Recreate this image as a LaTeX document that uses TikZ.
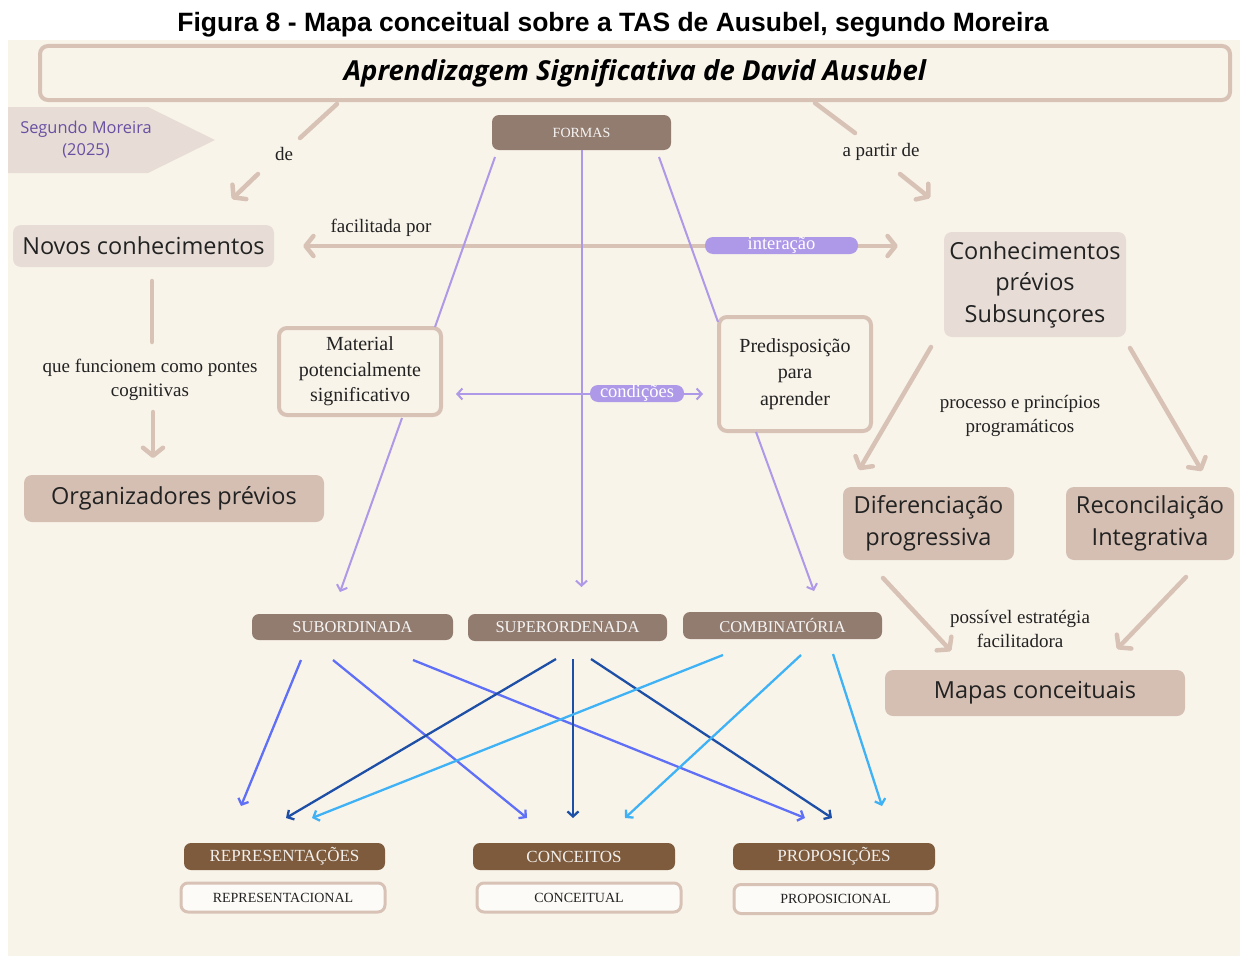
\documentclass[tikz,border=0pt]{standalone}
\usepackage{fontspec}
\setmainfont{Liberation Serif}
\newfontfamily\sansf{Open Sans}
\newfontfamily\arialf{Liberation Sans}
\usetikzlibrary{arrows.meta,calc}
\definecolor{bgc}{HTML}{F9F4EA}
\definecolor{tanc}{HTML}{D8C2B6}
\definecolor{lightbox}{HTML}{E7DDD6}
\definecolor{midbox}{HTML}{D5BFB3}
\definecolor{greybrown}{HTML}{927C70}
\definecolor{brownc}{HTML}{7D5B3C}
\definecolor{purp}{HTML}{AE98E8}
\definecolor{purptext}{HTML}{6A4FA3}
\definecolor{blueA}{HTML}{5F6FF6}
\definecolor{blueB}{HTML}{1E4FA6}
\definecolor{blueC}{HTML}{3FB2F6}
\definecolor{txt}{HTML}{222222}
\tikzset{
  x=1pt, y=-1pt,
  box/.style={rectangle, rounded corners=8pt, align=center, inner sep=0pt, text=txt},
  lightnode/.style={box, fill=lightbox, font=\sansf\fontsize{23.5}{31.5}\selectfont},
  midnode/.style={box, fill=midbox, font=\sansf\fontsize{23.5}{31.5}\selectfont},
  outlined/.style={box, draw=tanc, line width=4pt, fill=bgc, font=\fontsize{20}{26}\selectfont},
  capsnode/.style={box, rounded corners=7pt, fill=greybrown, text=white!92!greybrown, font=\fontsize{16.5}{16}\selectfont},
  brownnode/.style={box, rounded corners=7pt, fill=brownc, text=white!90!brownc, font=\fontsize{17}{17}\selectfont},
  whitenode/.style={box, rounded corners=7pt, draw=tanc, line width=3pt, fill=white!60!bgc, font=\fontsize{14}{14}\selectfont},
  lbl/.style={align=center, text=txt, font=\fontsize{19}{24}\selectfont},
  pill/.style={rectangle, rounded corners=8pt, fill=purp, text=white, inner sep=0pt, font=\fontsize{18.5}{15}\selectfont},
  tanline/.style={draw=tanc, line width=4.5pt, line cap=round},
  tanarrow/.style={tanline, -{Straight Barb[length=8pt 0, width=20pt 0, round]}},
  purpline/.style={draw=purp, line width=2pt},
  purparrow/.style={purpline, -{Straight Barb[length=5pt 0, width=11pt 0]}},
  bluearrow/.style={line width=2.3pt, -{Straight Barb[length=5pt 0, width=11pt 0]}},
}
\begin{document}
\begin{tikzpicture}
\useasboundingbox (0,0) rectangle (1240,958);
\fill[white] (0,0) rectangle (1240,958);
\fill[bgc] (8,40) rectangle (1240,956);

% caption
\node[font=\arialf\bfseries\fontsize{26.5}{28}\selectfont, text=black] (caption) at (613,25) {Figura 8 - Mapa conceitual sobre a TAS de Ausubel, segundo Moreira};

% title box
\node[box, draw=tanc, line width=4pt, minimum width=1190pt, minimum height=54pt, font=\sansf\bfseries\itshape\fontsize{27.5}{30}\selectfont, text=black] (top) at (635,73) {Aprendizagem Significativa de David Ausubel};

% Segundo Moreira tag
\fill[lightbox] (8,107) -- (148,107) -- (215,140) -- (148,173) -- (8,173) -- cycle;
\node[align=center, text=purptext, font=\sansf\fontsize{16.4}{22}\selectfont] (moreira) at (86,140) {Segundo Moreira\\(2025)};

% nodes
\node[capsnode, minimum width=179pt, minimum height=35pt, font=\fontsize{14}{14}\selectfont] (formas) at (581.5,132.5) {FORMAS};
\node[lightnode, minimum width=261pt, minimum height=42pt] (novos) at (143.5,246) {Novos conhecimentos};
\node[lightnode, minimum width=182pt, minimum height=105pt] (conh) at (1035,284.5) {Conhecimentos\\prévios\\Subsunçores};
\node[midnode, minimum width=300pt, minimum height=47pt] (org) at (174,498.5) {Organizadores prévios};
\node[outlined, minimum width=162pt, minimum height=87pt, font=\fontsize{20}{25.5}\selectfont] (mat) at (360,371.5) {Material\\potencialmente\\significativo};
\node[outlined, minimum width=152pt, minimum height=114pt, font=\fontsize{20}{26.5}\selectfont] (pred) at (795,374) {Predisposição\\para\\aprender};
\node[midnode, minimum width=171pt, minimum height=73pt] (dif) at (928.5,523.5) {Diferenciação\\progressiva};
\node[midnode, minimum width=168pt, minimum height=73pt] (rec) at (1150,523.5) {Reconcilaição\\Integrativa};
\node[midnode, minimum width=300pt, minimum height=46pt] (mapas) at (1035,693) {Mapas conceituais};

\node[capsnode, minimum width=201pt, minimum height=26pt] (sub) at (352.5,627) {SUBORDINADA};
\node[capsnode, minimum width=199pt, minimum height=27pt] (sup) at (567.5,627.5) {SUPERORDENADA};
\node[capsnode, minimum width=199pt, minimum height=27pt] (comb) at (782.5,625.5) {COMBINATÓRIA};

\node[brownnode, minimum width=201pt, minimum height=27pt] (rep) at (284.5,856.5) {REPRESENTAÇÕES};
\node[brownnode, minimum width=202pt, minimum height=27pt] (conc) at (574,856.5) {CONCEITOS};
\node[brownnode, minimum width=202pt, minimum height=27pt] (prop) at (834,856.5) {PROPOSIÇÕES};
\node[whitenode, minimum width=204pt, minimum height=29pt] (repl) at (283,897.5) {REPRESENTACIONAL};
\node[whitenode, minimum width=204pt, minimum height=29pt] (concl) at (579,897.5) {CONCEITUAL};
\node[whitenode, minimum width=203pt, minimum height=29pt] (propl) at (835.5,899) {PROPOSICIONAL};

% labels
\node[lbl] (lde) at (284,154) {de};
\node[lbl] (lpartir) at (881,152) {a partir de};
\node[lbl] (lfacil) at (381,228) {facilitada por};
\node[lbl] (lpontes) at (150,380) {que funcionem como pontes\\cognitivas};
\node[lbl] (lproc) at (1020,416) {processo e princípios\\programáticos};
\node[lbl] (lposs) at (1020,629) {possível estratégia\\facilitadora};

% tan connectors
\coordinate (deA) at (337,104);  \coordinate (deB) at (300,138);
\coordinate (deC) at (258,174);  \coordinate (deD) at (232,199);
\draw[tanline] (deA) -- (deB);
\draw[tanarrow] (deC) -- (deD);
\coordinate (paA) at (815,103);  \coordinate (paB) at (855,133);
\coordinate (paC) at (900,174);  \coordinate (paD) at (930,198);
\draw[tanline] (paA) -- (paB);
\draw[tanarrow] (paC) -- (paD);

\draw[tanline, {Straight Barb[length=8pt 0, width=20pt 0, round]}-{Straight Barb[length=8pt 0, width=20pt 0, round]}, shorten <=29pt, shorten >=46pt] (novos.east) -- (novos.east -| conh.west);
\node[pill, minimum width=153pt, minimum height=17pt] (inter) at (781.5,245.5) {interação};

\coordinate (npA) at (152,281); \coordinate (npB) at (152,342);
\coordinate (npC) at (153,412); \coordinate (npD) at (153,458);
\draw[tanline] (npA) -- (npB);
\draw[tanarrow] (npC) -- (npD);

\coordinate (cdA) at (931,347); \coordinate (cdB) at (859,470);
\coordinate (crA) at (1130,348); \coordinate (crB) at (1202,471);
\draw[tanarrow] (cdA) -- (cdB);
\draw[tanarrow] (crA) -- (crB);
\coordinate (dmA) at (883,578); \coordinate (dmB) at (951,651);
\coordinate (rmA) at (1186,577); \coordinate (rmB) at (1117,649);
\draw[tanarrow] (dmA) -- (dmB);
\draw[tanarrow] (rmA) -- (rmB);

% purple connectors
\draw[purpline] (495,157) coordinate (fmA) -- (435,327) coordinate (fmB);
\draw[purparrow] (402,418) coordinate (msA) -- (340,592) coordinate (msB);
\draw[purparrow] (formas.south) -- (581.5,587) coordinate (fsB);
\draw[purpline] (659,157) coordinate (fpA) -- (718,322) coordinate (fpB);
\draw[purparrow] (756,432) coordinate (pcA) -- (814,591) coordinate (pcB);
\draw[purpline, {Straight Barb[length=5pt 0, width=11pt 0]}-{Straight Barb[length=5pt 0, width=11pt 0]}] (456,394) coordinate (cdL) -- (703,394) coordinate (cdR);
\node[pill, minimum width=94pt, minimum height=17pt] (cond) at (637,393.5) {condições};

% blue connectors
\draw[bluearrow, blueA] (301,660) coordinate (s1) -- (241,806) coordinate (e1);
\draw[bluearrow, blueA] (333,660) coordinate (s2) -- (527,818) coordinate (e2);
\draw[bluearrow, blueA] (413,660) coordinate (s3) -- (805,818) coordinate (e3);
\draw[bluearrow, blueB] (556,659) coordinate (s4) -- (286,818) coordinate (e4);
\draw[bluearrow, blueB] (573,659) coordinate (s5) -- (573,818) coordinate (e5);
\draw[bluearrow, blueB] (591,659) coordinate (s6) -- (832,818) coordinate (e6);
\draw[bluearrow, blueC] (723,655) coordinate (s7) -- (312,818) coordinate (e7);
\draw[bluearrow, blueC] (801,655) coordinate (s8) -- (625,818) coordinate (e8);
\draw[bluearrow, blueC] (833,654) coordinate (s9) -- (882,806) coordinate (e9);
\end{tikzpicture}
\end{document}
